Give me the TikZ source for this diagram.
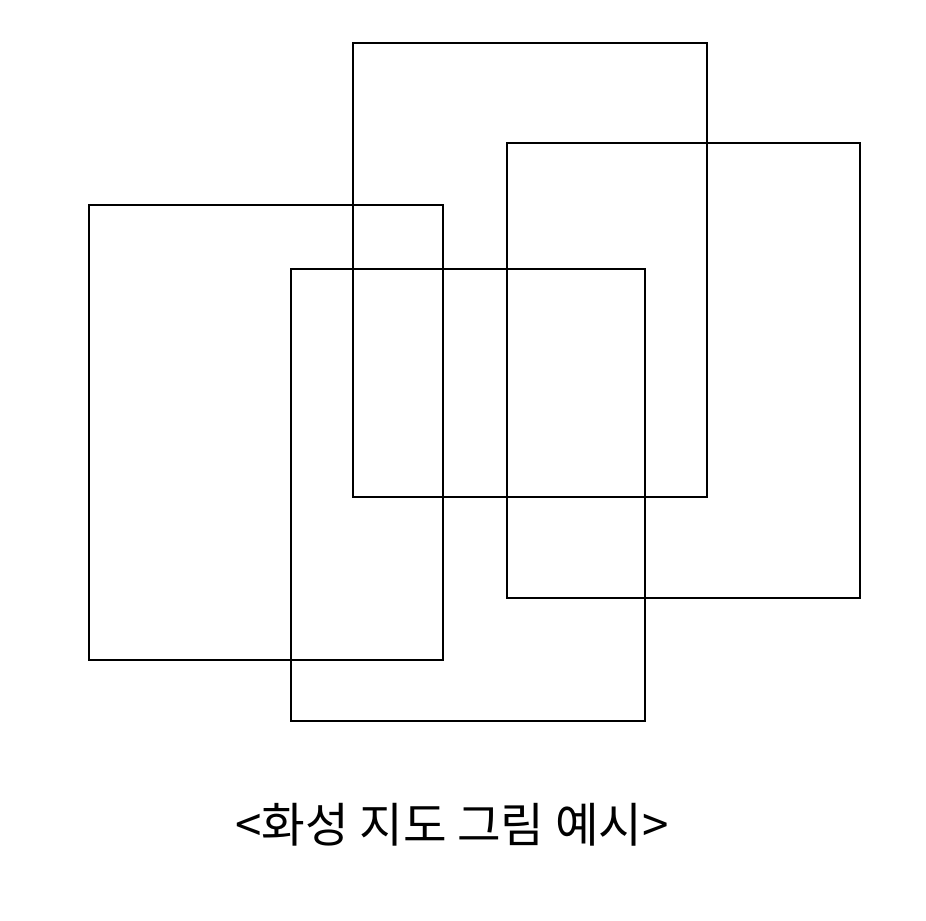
\documentclass[tikz,border=0pt]{standalone}
\usepackage{fontspec}
\newfontfamily\krfont{Noto Sans CJK KR}
\usetikzlibrary{calc}

\begin{document}
\begin{tikzpicture}[x=0.02cm,y=-0.02cm]
		\useasboundingbox (0,0) rectangle (926,920);
		\tikzset{frame/.style={line width=0.045cm}}
		\coordinate (A) at (353,43);
		\coordinate (B) at (507,143);
		\coordinate (C) at (89,205);
		\coordinate (D) at (291,269);
		
		\draw[frame] (A) rectangle ($(A)+(354,454)$);
		\draw[frame] (B) rectangle ($(B)+(353,455)$);
		\draw[frame] (C) rectangle ($(C)+(354,455)$);
		\draw[frame] (D) rectangle ($(D)+(354,452)$);
		
		\node (caption) at (452,825) {\krfont\fontsize{27pt}{32pt}\selectfont <화성 지도 그림 예시>};
	\end{tikzpicture}
\end{document}
